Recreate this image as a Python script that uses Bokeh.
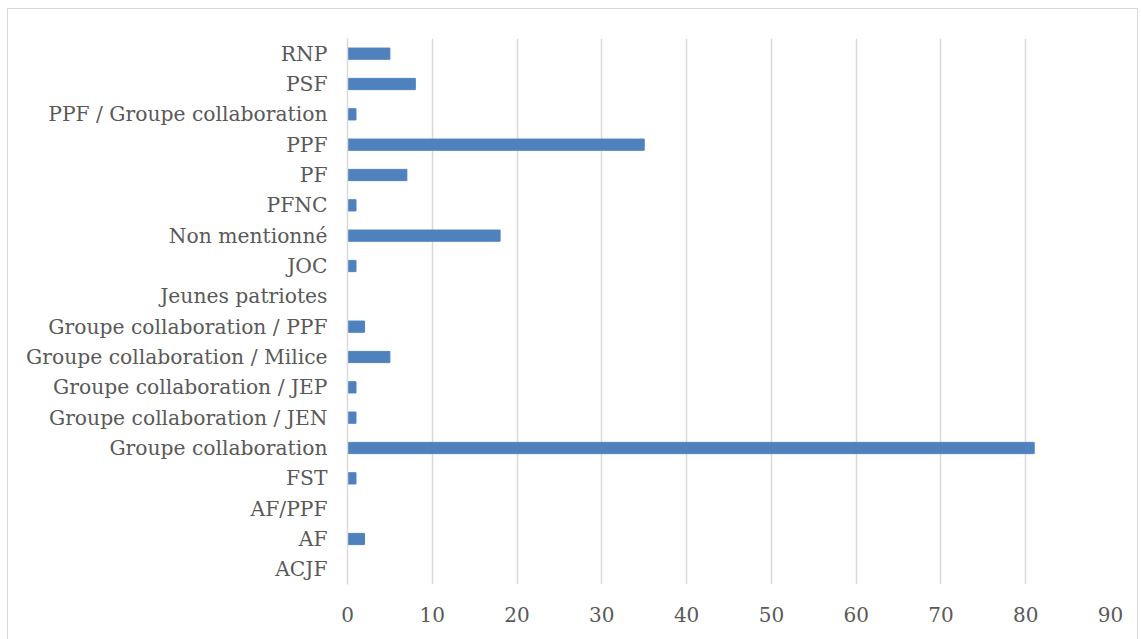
from bokeh.plotting import figure
from bokeh.models import FactorRange, Range1d, SingleIntervalTicker
from bokeh.embed import file_html
from bokeh.resources import INLINE

categories = ["ACJF", "AF", "AF/PPF", "FST", "Groupe collaboration",
              "Groupe collaboration / JEN", "Groupe collaboration / JEP",
              "Groupe collaboration / Milice", "Groupe collaboration / PPF",
              "Jeunes patriotes", "JOC", "Non mentionné", "PFNC", "PF", "PPF",
              "PPF / Groupe collaboration", "PSF", "RNP"]
values = [0, 2, 0, 1, 81, 1, 1, 5, 2, 0, 1, 18, 1, 7, 35, 1, 8, 5]

FONT = "DejaVu Serif"
TXT = "#595959"

p = figure(width=1131, height=640, output_backend="svg", toolbar_location=None,
           y_range=FactorRange(*categories, range_padding=0),
           x_range=Range1d(0, 90),
           min_border_left=339, min_border_right=29, min_border_top=29, min_border_bottom=65)
p.styles = {"border": "1px solid #d9d9d9", "box-sizing": "border-box",
            "margin-left": "7px", "margin-top": "8px"}
p.hbar(y=categories, right=values, height=0.37, left=0, color="#4f81bd")

p.xaxis.ticker = SingleIntervalTicker(interval=10)
p.xaxis.axis_line_color = None
p.xaxis.major_tick_line_color = None
p.xaxis.minor_tick_line_color = None
p.xaxis.major_label_standoff = 16
p.xaxis.major_label_text_font = FONT
p.xaxis.major_label_text_font_size = "20px"
p.xaxis.major_label_text_color = TXT

p.yaxis.axis_line_color = "#d9d9d9"
p.yaxis.axis_line_width = 1.5
p.yaxis.major_tick_line_color = None
p.yaxis.minor_tick_line_color = None
p.yaxis.major_label_standoff = 14
p.yaxis.major_label_text_font = FONT
p.yaxis.major_label_text_font_size = "20.3px"
p.yaxis.major_label_text_color = TXT

p.xgrid.grid_line_color = "#d9d9d9"
p.xgrid.grid_line_width = 1.5
p.ygrid.grid_line_color = None
p.outline_line_color = None

open("out.html", "w").write(file_html(p, INLINE))
